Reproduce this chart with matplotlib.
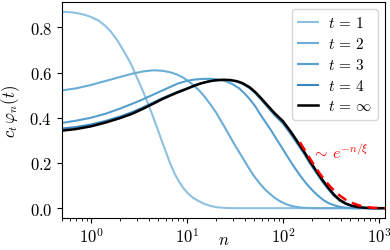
import numpy as np
import matplotlib
matplotlib.use("Agg")
import matplotlib.pyplot as plt

plt.rcParams['mathtext.fontset'] = 'cm'
plt.rcParams['font.family'] = 'DejaVu Serif'
plt.rcParams['font.size'] = 12

# values (n, c_t phi_n(t))
n1 = [0.5, 0.6, 0.7, 0.85, 1.0, 1.2, 1.4, 1.6, 1.9, 2.2, 2.6, 3.0, 3.4, 3.8, 4.3, 4.8, 5.4, 6.0, 6.6, 7.4, 8.2,
      9.1, 10.2, 11.5, 13, 15, 17.5, 20.5, 25, 30, 1155]
v1 = [0.869, 0.867, 0.864, 0.856, 0.846, 0.83, 0.808, 0.783, 0.74, 0.695, 0.64, 0.58, 0.528, 0.478, 0.42, 0.365,
      0.305, 0.252, 0.205, 0.155, 0.12, 0.091, 0.066, 0.047, 0.033, 0.02, 0.01, 0.004, 0.001, 0.0, 0.0]

n2 = [0.5, 0.7, 1.0, 1.4, 2.0, 2.7, 3.5, 4.5, 5.5, 6.6, 7.8, 9.1, 10.5, 12, 13.6, 15.5, 17.5, 20, 22, 25, 28, 32,
      36, 41, 46, 51, 58, 66, 73, 82, 92, 105, 118, 135, 160, 200, 1155]
v2 = [0.521, 0.53, 0.545, 0.562, 0.58, 0.595, 0.605, 0.61, 0.608, 0.602, 0.592, 0.578, 0.56, 0.54, 0.518, 0.49,
      0.46, 0.425, 0.395, 0.355, 0.318, 0.275, 0.24, 0.2, 0.165, 0.137, 0.107, 0.08, 0.064, 0.046, 0.032, 0.02,
      0.012, 0.006, 0.002, 0.0, 0.0]

n3 = [0.5, 0.7, 1.0, 1.4, 2.0, 2.7, 3.5, 4.5, 5.5, 6.6, 8, 10, 12, 15, 18, 22, 26, 30, 35, 40, 46, 52, 58, 66,
      75, 85, 93, 105, 120, 135, 152, 172, 192, 215, 240, 270, 300, 340, 390, 450, 550, 1155]
v3 = [0.377, 0.387, 0.40, 0.417, 0.44, 0.462, 0.482, 0.503, 0.52, 0.535, 0.551, 0.563, 0.569, 0.572, 0.572, 0.568,
      0.56, 0.548, 0.53, 0.507, 0.478, 0.448, 0.415, 0.38, 0.345, 0.308, 0.282, 0.246, 0.207, 0.174, 0.143, 0.113,
      0.09, 0.068, 0.05, 0.033, 0.022, 0.013, 0.006, 0.002, 0.0, 0.0]

n4 = [0.5, 0.7, 1.0, 1.4, 2.0, 2.7, 3.5, 4.5, 5.5, 6.6, 8, 10, 12, 14, 17, 20, 24, 28, 33, 38, 45, 52, 60, 70,
      82, 100, 120, 140, 165, 190, 220, 255, 295, 340, 390, 450, 520, 600, 710, 850, 1155]
v4 = [0.352, 0.359, 0.37, 0.385, 0.405, 0.425, 0.446, 0.468, 0.486, 0.5, 0.515, 0.53, 0.543, 0.553, 0.561, 0.565,
      0.567, 0.566, 0.56, 0.55, 0.531, 0.507, 0.478, 0.445, 0.412, 0.375, 0.33, 0.288, 0.243, 0.2, 0.16, 0.12,
      0.085, 0.055, 0.033, 0.018, 0.009, 0.004, 0.001, 0.0, 0.0]

ninf = [0.5, 0.7, 1.0, 1.4, 2.0, 2.7, 3.5, 4.5, 5.5, 6.6, 8, 10, 12, 14, 17, 20, 24, 28, 33, 38, 45, 52, 60, 70,
        82, 100, 120, 140, 165, 190, 220, 255, 295, 340, 390, 450, 520, 600, 710, 850, 1155]
vinf = [0.343, 0.35, 0.362, 0.378, 0.398, 0.418, 0.44, 0.463, 0.482, 0.497, 0.512, 0.528, 0.542, 0.552, 0.561,
        0.566, 0.568, 0.567, 0.562, 0.553, 0.535, 0.512, 0.484, 0.452, 0.42, 0.385, 0.34, 0.298, 0.252, 0.21,
        0.168, 0.128, 0.092, 0.06, 0.037, 0.021, 0.011, 0.005, 0.002, 0.0, 0.0]

# exponential tail guide
nr = [150, 170, 191, 215, 243, 275, 309, 350, 393, 445, 500, 600, 711, 850, 1000, 1155]
vr = [0.292, 0.255, 0.22, 0.185, 0.152, 0.122, 0.097, 0.073, 0.055, 0.039, 0.027, 0.014, 0.006, 0.002, 0.0005, 0.0]

labels = ['$t\\,=\\,1$', '$t\\,=\\,2$', '$t\\,=\\,3$', '$t\\,=\\,4$', '$t\\,=\\,\\infty$']
colors = ['#8ec1e0', '#6aaed6', '#559fcf', '#3a87c0', 'black']

fig = plt.figure(figsize=(3.9, 2.51), dpi=100)
ax = fig.add_axes([0.159, 0.1275, 0.828, 0.8605])

curves = [(n1, v1), (n2, v2), (n3, v3), (n4, v4), (ninf, vinf)]
for (nn, vv), lab, c in zip(curves, labels, colors):
    lw = 1.8 if c == 'black' else 1.5
    ax.plot(nn, vv, color=c, lw=lw, label=lab)

ax.plot(nr, vr, color='red', ls='--', lw=1.8, dashes=(4, 2.5))
ax.text(200, 0.245, '$\\sim\\, e^{-n/\\xi}$', color='red', fontsize=11.5, va='center')

ax.set_xscale('log')
ax.set_xlim(0.5, 1155)
ax.set_ylim(-0.0435, 0.912)
ax.set_xticks([1, 10, 100, 1000])
ax.set_xticklabels(['$10^0$', '$10^1$', '$10^2$', '$10^3$'])
ax.set_yticks([0.0, 0.2, 0.4, 0.6, 0.8])
ax.set_yticklabels(['$0.0$', '$0.2$', '$0.4$', '$0.6$', '$0.8$'])
ax.set_xlabel('$n$')
ax.xaxis.set_label_coords(0.5, -0.06)
ax.set_ylabel('$c_t\\,\\varphi_n(t)$')
ax.yaxis.set_label_coords(-0.125, 0.5)

leg = ax.legend(loc='upper right', handlelength=1.3, handletextpad=0.7, fancybox=True, framealpha=0.8,
                labelspacing=0.4, fontsize=11, borderaxespad=0.45)

fig.savefig('out.png', dpi=100)
